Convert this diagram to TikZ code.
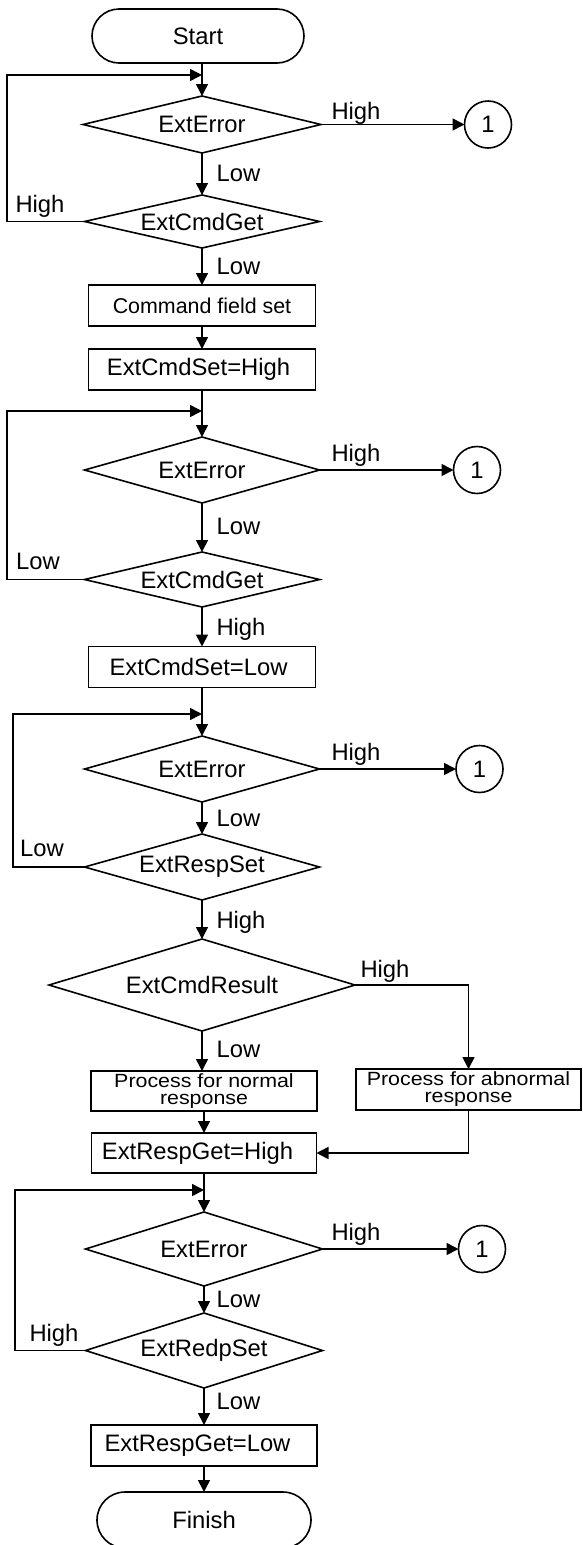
\documentclass[tikz,border=0pt]{standalone}
\usepackage{fontspec}
\setmainfont{Liberation Sans}
\newfontfamily\pfont[FakeStretch=1.12]{Liberation Sans}
\usetikzlibrary{shapes.geometric,shapes.misc,arrows.meta}
\begin{document}
\begin{tikzpicture}[x=1pt,y=-1pt,line width=1.6pt,
  font=\fontsize{23.8}{28}\selectfont,
  arr/.style={-{Triangle[length=12pt,width=12pt]}},
  dia/.style={draw,shape=diamond,inner sep=0pt,outer sep=0pt,aspect=4},
  box/.style={draw,rectangle,inner sep=0pt,outer sep=0pt,minimum width=227pt,minimum height=41pt},
  pbox/.style={box,minimum width=225pt,align=center,font=\pfont\fontsize{19.1}{17}\selectfont},
  term/.style={draw,rounded rectangle,inner sep=0pt,outer sep=0pt,minimum width=212pt,minimum height=54pt},
  circ/.style={draw,circle,inner sep=0pt,outer sep=0pt,minimum size=47pt},
  lbl/.style={anchor=base,inner sep=0pt}]
\useasboundingbox (0,0) rectangle (582,1545);

% nodes
\node[term] (start) at (198,36) {Start};
\node[dia,minimum width=238pt,minimum height=57pt] (d1) at (202,124.5) {ExtError};
\node[circ] (c1) at (488,124.5) {1};
\node[dia,minimum width=235pt,minimum height=53pt] (d2) at (202,221.5) {ExtCmdGet};
\node[box,font=\fontsize{21.4}{24}\selectfont] (b1) at (202,305.5) {Command field set};
\node[box] (b2) at (202,369.5) {ExtCmdSet=High\hspace*{7pt}};
\node[dia,minimum width=235pt,minimum height=66pt] (d3) at (202,470) {ExtError};
\node[circ] (c2) at (477,470) {1};
\node[dia,minimum width=235pt,minimum height=55pt] (d4) at (202,579.5) {ExtCmdGet};
\node[box] (b3) at (202,667) {ExtCmdSet=Low\hspace*{7pt}};
\node[dia,minimum width=235pt,minimum height=66pt] (d5) at (202,769) {ExtError};
\node[circ] (c3) at (479.5,769) {1};
\node[dia,minimum width=235pt,minimum height=66pt] (d6) at (202,867) {ExtRespSet};
\node[dia,aspect=3.3,minimum width=306pt,minimum height=92pt] (d7) at (202,985) {ExtCmdResult};
\node[pbox,minimum width=226pt,minimum height=40pt] (b4) at (204,1091) {Process for normal\\response};
\node[pbox] (b5) at (468.5,1089.5) {Process for abnormal\\response};
\node[box,minimum width=225pt,minimum height=40pt] (b6) at (204,1153) {ExtRespGet=High\hspace*{13pt}};
\node[dia,minimum width=237pt,minimum height=74pt] (d8) at (204,1249) {ExtError};
\node[circ] (c4) at (482,1249) {1};
\node[dia,minimum width=237pt,minimum height=75pt] (d9) at (204,1350.5) {ExtRedpSet};
\node[box,minimum width=226pt] (b7) at (204,1445.5) {ExtRespGet=Low\hspace*{13pt}};
\node[term,minimum width=214pt,minimum height=56pt] (fin) at (204,1520) {Finish};

% loop coordinates
\coordinate (j1) at (202,75);   \coordinate (k1) at (6.7,75);
\coordinate (j2) at (202,411);  \coordinate (k2) at (6.7,411);
\coordinate (j3) at (202,714);  \coordinate (k3) at (13,714);
\coordinate (j4) at (204,1190); \coordinate (k4) at (15,1190);

% connectors
\draw[arr] (start.south -| d1.north) -- (d1.north);
\draw[arr] (d2.west) -| (k1) -- (j1);
\draw[arr] (d1.east) -- (c1.west);
\draw[arr] (d1.south) -- (d2.north);
\draw[arr] (d2.south) -- (b1.north);
\draw[arr] (b1.south) -- (b2.north);
\draw[arr] (b2.south) -- (d3.north);
\draw[arr] (d4.west) -| (k2) -- (j2);
\draw[arr] (d3.east) -- (c2.west);
\draw[arr] (d3.south) -- (d4.north);
\draw[arr] (d4.south) -- (b3.north);
\draw[arr] (b3.south) -- (d5.north);
\draw[arr] (d6.west) -| (k3) -- (j3);
\draw[arr] (d5.east) -- (c3.west);
\draw[arr] (d5.south) -- (d6.north);
\draw[arr] (d6.south) -- (d7.north);
\draw[arr] (d7.south) -- (d7.south |- b4.north);
\draw[arr] (d7.east) -| (b5.north);
\draw[arr] (b4.south) -- (b6.north);
\draw[arr] (b5.south) |- (b6.east);
\draw[arr] (b6.south) -- (d8.north);
\draw[arr] (d9.west) -| (k4) -- (j4);
\draw[arr] (d8.east) -- (c4.west);
\draw[arr] (d8.south) -- (d9.north);
\draw[arr] (d9.south) -- (b7.north);
\draw[arr] (b7.south) -- (fin.north);

% labels
\node[lbl] (t1) at (356,119.5) {High};
\node[lbl] (t2) at (238.5,181.5) {Low};
\node[lbl] (t3) at (40,212.5) {High};
\node[lbl] (t4) at (238.5,274.5) {Low};
\node[lbl] (t5) at (356,461.5) {High};
\node[lbl] (t6) at (238.5,534.5) {Low};
\node[lbl] (t7) at (38,569.5) {Low};
\node[lbl] (t8) at (241,635.5) {High};
\node[lbl] (t9) at (356,760.5) {High};
\node[lbl] (t10) at (238.5,826.5) {Low};
\node[lbl] (t11) at (42,856.5) {Low};
\node[lbl] (t12) at (241,928.5) {High};
\node[lbl] (t13) at (385,977.5) {High};
\node[lbl] (t14) at (238.5,1057.5) {Low};
\node[lbl] (t15) at (356,1240.5) {High};
\node[lbl] (t16) at (238.5,1307.5) {Low};
\node[lbl] (t17) at (54,1341.5) {High};
\node[lbl] (t18) at (238.5,1409.5) {Low};
\end{tikzpicture}
\end{document}
